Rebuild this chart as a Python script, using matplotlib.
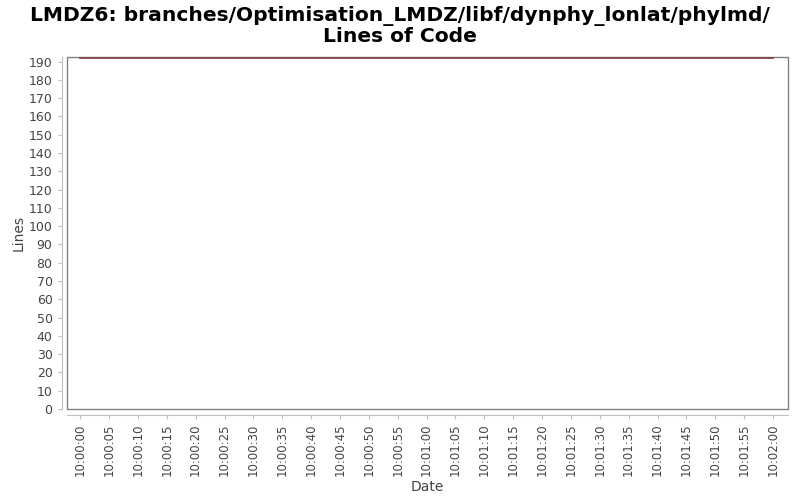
import datetime as dt
import matplotlib
matplotlib.use("Agg")
import matplotlib.pyplot as plt
import matplotlib.dates as mdates
from matplotlib.patches import Rectangle

# data
times = [dt.datetime(2000, 1, 1, 10, 0, 0), dt.datetime(2000, 1, 1, 10, 2, 0)]
lines = [192, 192]

fig = plt.figure(figsize=(8, 5), dpi=100)
ax = fig.add_axes([0.084, 0.182, 0.901, 0.704])

ax.plot(times, lines, color="#803a3a", linewidth=1.2, clip_on=False)

ax.set_ylim(0, 192.5)
ax.set_yticks(range(0, 191, 10))
ax.set_xlim(times[0] - dt.timedelta(seconds=2.25), times[1] + dt.timedelta(seconds=2.6))
ax.xaxis.set_major_locator(mdates.SecondLocator(bysecond=range(0, 60, 5)))
ax.xaxis.set_major_formatter(mdates.DateFormatter("%H:%M:%S"))

for s in ["top", "right"]:
    ax.spines[s].set_visible(False)
for s in ["left", "bottom"]:
    ax.spines[s].set_position(("outward", 4))
    ax.spines[s].set_color("#c0c0c0")
ax.add_patch(Rectangle((0, 0), 1, 1, transform=ax.transAxes, fill=False,
                       edgecolor="#808080", linewidth=1, clip_on=False))

ax.tick_params(axis="both", colors="#c0c0c0", labelcolor="#444444", length=3)
ax.tick_params(axis="y", labelsize=9)
ax.tick_params(axis="x", labelsize=8.5, labelrotation=90)

ax.set_xlabel("Date", fontsize=10, color="#444444", labelpad=3)
ax.set_ylabel("Lines", fontsize=10, color="#444444", labelpad=2)

fig.suptitle("LMDZ6: branches/Optimisation_LMDZ/libf/dynphy_lonlat/phylmd/\nLines of Code",
             fontsize=14.6, fontweight="bold", y=0.988, linespacing=1.05)

fig.savefig("out.png")
